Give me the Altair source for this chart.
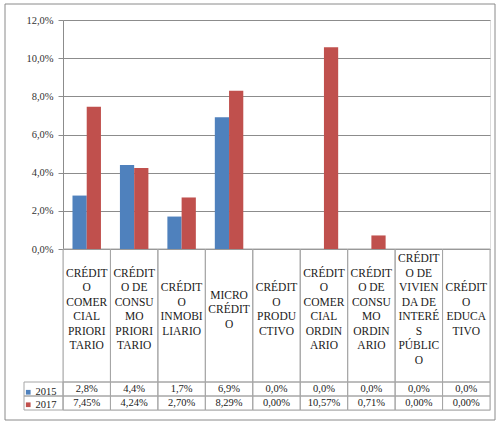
import altair as alt
import pandas as pd

categories = [
    "CRÉDIT\nO\nCOMER\nCIAL\nPRIORI\nTARIO",
    "CRÉDIT\nO DE\nCONSU\nMO\nPRIORI\nTARIO",
    "CRÉDIT\nO\nINMOBI\nLIARIO",
    "MICRO\nCRÉDIT\nO",
    "CRÉDIT\nO\nPRODU\nCTIVO",
    "CRÉDIT\nO\nCOMER\nCIAL\nORDIN\nARIO",
    "CRÉDIT\nO DE\nCONSU\nMO\nORDIN\nARIO",
    "CRÉDIT\nO DE\nVIVIEN\nDA DE\nINTERÉ\nS\nPÚBLIC\nO",
    "CRÉDIT\nO\nEDUCA\nTIVO",
]
years = ["2015", "2017"]
values_2015 = [2.8, 4.4, 1.7, 6.9, 0.0, 0.0, 0.0, 0.0, 0.0]
values_2017 = [7.45, 4.24, 2.70, 8.29, 0.00, 10.57, 0.71, 0.00, 0.00]
decimals = {"2015": 1, "2017": 2}
y_ticks = [0, 2, 4, 6, 8, 10, 12]
colors = ["#4F81BD", "#C0504D"]

rows = []
for i, c in enumerate(categories):
    for yr, vals in (("2015", values_2015), ("2017", values_2017)):
        v = vals[i]
        rows.append({
            "cat": c, "year": yr, "value": v,
            "label": f"{v:.{decimals[yr]}f}".replace(".", ",") + "%",
        })
df = pd.DataFrame(rows)
cat_df = pd.DataFrame({"cat": categories})
year_df = pd.DataFrame({"year": years})

W, H = 427, 390
PLOT_H = 229
HEADER_B = 362
HEADER_MID = 290
LH = 14.5
FONT = "Liberation Serif"
LINE = "#8c8c8c"
TLINE = "#a6a6a6"

x_full = alt.X("cat:N", sort=categories,
               scale=alt.Scale(paddingInner=0, paddingOuter=0), axis=None)
y_rows = alt.Y("year:N", sort=years,
               scale=alt.Scale(range=[HEADER_B, H], paddingInner=0, paddingOuter=0),
               axis=None)

frame = alt.Chart(cat_df.head(1)).mark_rect(
    fill="white", fillOpacity=0, stroke="#8a8a8a", strokeWidth=1
).encode(x=alt.value(-58), x2=alt.value(432), y=alt.value(-16), y2=alt.value(400))

header_cells = alt.Chart(cat_df).mark_rect(
    fill="white", fillOpacity=0, stroke=TLINE, strokeWidth=1
).encode(x=x_full, y=alt.value(PLOT_H), y2=alt.value(HEADER_B))

row_cells = alt.Chart(df).mark_rect(
    fill="white", fillOpacity=0, stroke=TLINE, strokeWidth=1
).encode(x=x_full, y=y_rows)

legend_cells = alt.Chart(year_df).mark_rect(
    fill="white", fillOpacity=0, stroke=TLINE, strokeWidth=1
).encode(x=alt.value(-39), x2=alt.value(0), y=y_rows)

bars = alt.Chart(df).mark_bar().encode(
    x=alt.X("cat:N", sort=categories,
            scale=alt.Scale(paddingInner=0.4, paddingOuter=0.2), axis=None),
    xOffset=alt.XOffset("year:N", sort=years),
    y=alt.Y("value:Q",
            scale=alt.Scale(domain=[0, 12], range=[PLOT_H, 0]),
            axis=alt.Axis(values=y_ticks, title=None,
                          labelExpr="replace(format(datum.value, '.1f'), '.', ',') + '%'",
                          grid=True, gridColor=LINE, gridWidth=1,
                          domainColor=LINE, tickColor=LINE, tickSize=5,
                          labelPadding=5, labelFontSize=10.5,
                          labelColor="#333333")),
    color=alt.Color("year:N", sort=years,
                    scale=alt.Scale(domain=years, range=colors),
                    legend=alt.Legend(orient="none", legendX=-40, legendY=367,
                                      title=None, symbolType="square",
                                      symbolSize=22, symbolStrokeWidth=0,
                                      labelFontSize=10.5,
                                      labelColor="#222222", rowPadding=1.5,
                                      padding=0, labelOffset=2)),
)

header_text = alt.Chart(cat_df).transform_calculate(
    lines="split(datum.cat, '\\n')"
).transform_calculate(
    ypos=f"{HEADER_MID} - (length(datum.lines) - 1) * {LH} / 2"
).mark_text(
    fontSize=11.5, lineHeight=LH,
    baseline="middle", align="center", color="#1a1a1a"
).encode(
    x=x_full,
    y=alt.Y("ypos:Q", scale=alt.Scale(domain=[0, H], range=[0, H]), axis=None),
    text="lines:N",
)

row_text = alt.Chart(df).mark_text(
    fontSize=10.5, baseline="middle", align="center", color="#1a1a1a"
).encode(x=x_full, y=y_rows, text="label:N")

chart = alt.layer(
    frame, header_cells, row_cells, legend_cells, bars, header_text, row_text
).resolve_scale(x="independent", y="independent").properties(
    width=W, height=H,
    autosize=alt.AutoSizeParams(type="none"),
    padding={"left": 63, "top": 20, "right": 8, "bottom": 18},
).configure_view(stroke=None).configure(
    background="white", font=FONT
).configure_axis(labelFont=FONT).configure_legend(labelFont=FONT).configure_text(font=FONT)

chart.save("out.html", embed_options={"renderer": "svg", "actions": False})
